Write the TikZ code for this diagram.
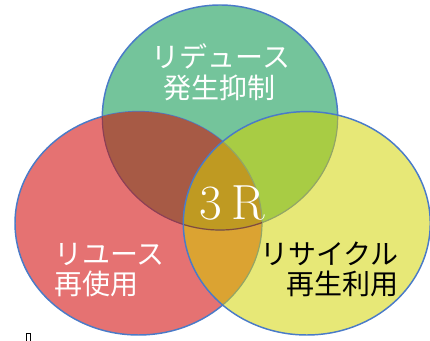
\documentclass[tikz,border=0pt]{standalone}
\usepackage{fontspec}
\newfontfamily\jpfont{Noto Sans CJK JP}
\definecolor{cG}{HTML}{74C49B}
\definecolor{cR}{HTML}{E57272}
\definecolor{cY}{HTML}{E7E877}
\definecolor{cRG}{HTML}{A75A45}
\definecolor{cGY}{HTML}{A8CC44}
\definecolor{cRY}{HTML}{DBA332}
\definecolor{cRGY}{HTML}{BF9A22}
\definecolor{edge}{HTML}{4A7BC8}
\definecolor{dimRG}{HTML}{8C3F55}
\definecolor{dimY}{HTML}{92A566}
\begin{document}
\begin{tikzpicture}[x=0.75pt,y=-0.75pt,
  ring/.style={draw=edge,line width=1.1pt},
  dimring/.style={line width=0.9pt},
  jp/.style={font=\jpfont\fontsize{21}{23}\selectfont,inner sep=0pt},
  wlabel/.style={jp,text=white},
  blabel/.style={jp,text=black}]
\useasboundingbox (0,0) rectangle (430,341);
\def\green{(220,117.5) ellipse [x radius=117.7, y radius=112.5]}
\def\red{(138.5,223.3) ellipse [x radius=123.5, y radius=111.7]}
\def\yellow{(306.8,223.3) ellipse [x radius=123.5, y radius=111.7]}
% green
\fill[cG] \green;
\draw[ring] \green;
% red
\fill[cR] \red;
\draw[ring] \red;
\begin{scope}
  \clip \red;
  \fill[cRG] \green;
  \draw[dimring,draw=dimRG] \green;
\end{scope}
% yellow
\fill[cY] \yellow;
\begin{scope}
  \clip \yellow;
  \fill[cGY] \green;
  \fill[cRY] \red;
  \begin{scope}
    \clip \red;
    \fill[cRGY] \green;
  \end{scope}
  \draw[dimring,draw=dimY] \green;
  \draw[dimring,draw=dimY] \red;
  \begin{scope}
    \clip \red;
    \draw[dimring,draw=cRG!80!black] \green;
  \end{scope}
\end{scope}
\draw[ring] \yellow;
% labels
\node[wlabel] (reduce) at (221,56) {リデュース};
\node[wlabel] (reduceJ) at (220,88) {発生抑制};
\node[wlabel,anchor=west] (reuse) at (54,254) {リユース};
\node[wlabel,anchor=west] (reuseJ) at (54,284) {再使用};
\node[blabel,anchor=east] (recycle) at (399,254) {リサイクル};
\node[blabel,anchor=east] (recycleJ) at (399,284) {再生利用};
\node[text=white,font=\fontsize{37}{39}\selectfont,inner sep=0pt] (threeR) at (232,203) {3\hspace{7pt}R};
% small mark at bottom left
\draw[black,line width=0.6pt] (26,341) -- (26,333) -- (30,333) -- (30,341);
\end{tikzpicture}
\end{document}
